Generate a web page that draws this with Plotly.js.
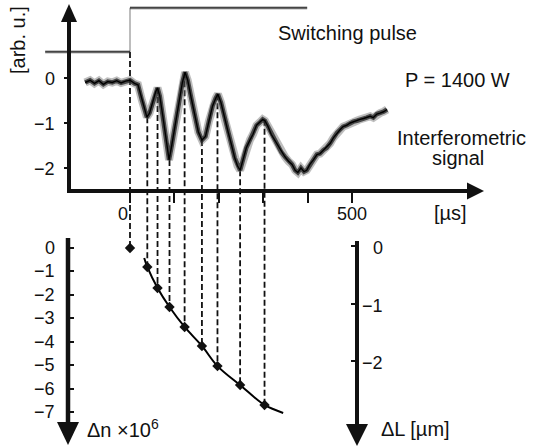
<!DOCTYPE html>
<html><head><meta charset="utf-8">
<script src="https://cdn.plot.ly/plotly-3.0.1.min.js"></script>
<style>html,body{margin:0;padding:0;background:#fff;} #chart{width:533px;height:447px;}</style>
</head><body><div id="chart"></div>
<script>
// ---------- data ----------
const pulseTime  = [-191, 0, 0, 399];
const pulseLevel = [0.58, 0.58, 1.56, 1.56];

const signalTime = [-101,-90,-80,-70,-60,-50,-40,-30,-20,-10,0,10,18,27,34,38,44,52,58,62,67,74,82,88,94,102,110,118,124,130,138,146,154,162,170,178,186,193,198,205,213,221,229,236,242,248,255,262,270,277,285,293,299,304,311,318,326,333,341,349,357,365,372,378,385,392,398,405,413,421,428,436,443,451,458,466,473,480,488,496,503,511,518,526,533,541,548,556,563,571,579];
const signalValue = [-0.10,-0.05,-0.12,-0.06,-0.14,-0.08,-0.10,-0.06,-0.11,-0.07,-0.05,-0.12,-0.15,-0.50,-0.75,-0.87,-0.78,-0.50,-0.30,-0.22,-0.40,-0.85,-1.45,-1.82,-1.50,-1.00,-0.55,-0.10,0.13,-0.05,-0.45,-0.80,-1.20,-1.38,-1.30,-0.95,-0.62,-0.45,-0.36,-0.55,-0.90,-1.20,-1.50,-1.78,-1.95,-2.05,-1.80,-1.55,-1.38,-1.25,-1.05,-0.98,-0.92,-0.95,-1.08,-1.25,-1.38,-1.50,-1.65,-1.75,-1.85,-1.92,-2.05,-2.10,-2.00,-2.08,-2.05,-1.92,-1.82,-1.70,-1.68,-1.60,-1.55,-1.45,-1.33,-1.22,-1.15,-1.08,-1.05,-1.00,-0.97,-0.95,-0.92,-0.90,-0.88,-0.85,-0.88,-0.80,-0.78,-0.75,-0.70];

const extremaTime   = [0, 39, 62, 89, 123, 162, 197, 248, 303];
const extremaSignal = [0.58, -0.87, -0.22, -1.82, 0.13, -1.38, -0.36, -2.05, -0.93];
const deltaN        = [0, -0.81, -1.71, -2.52, -3.37, -4.18, -5.04, -5.85, -6.70];

const fitTime   = [32, 39, 62, 89, 123, 162, 197, 248, 303, 345];
const fitDeltaN = [-0.43, -0.81, -1.71, -2.52, -3.37, -4.18, -5.04, -5.85, -6.70, -7.04];

const xTickVals   = [0, 100, 200, 300, 400, 500];
const xLabelVals  = [0, 500];
const xLabelText  = ['0', '500'];
const sigTickVals = [0, -1, -2];
const sigTickText = ['0', '\u22121', '\u22122'];
const dnTickVals  = [0, -1, -2, -3, -4, -5, -6, -7];
const dnTickText  = ['0', '\u22121', '\u22122', '\u22123', '\u22124', '\u22125', '\u22126', '\u22127'];
const dlTickVals  = [0, -1, -2];
const dlTickText  = ['0', '\u22121', '\u22122'];

// ---------- layout geometry ----------
const W = 533, H = 447;
const FONT = 'Liberation Sans, Arial, Helvetica, sans-serif';
const INK = '#111';
const xRange  = [-292.79, 907.66];
const y1Range = [-8.2, 1.7333];
const y2Range = [-8.4934, 10.5847];
const y3Range = [-3.4957, 4.2783];
const px = p => p / W;
const py = p => 1 - p / H;
// convert a value on the Δn axis to the signal axis (both span the full height)
const dnToSignal = v => y1Range[0] + (v - y2Range[0]) / (y2Range[1] - y2Range[0]) * (y1Range[1] - y1Range[0]);

const traces = [];
// dashed connectors
extremaTime.forEach((t, i) => {
  traces.push({x: [t, t], y: [extremaSignal[i], dnToSignal(deltaN[i])], xaxis: 'x', yaxis: 'y',
    mode: 'lines', line: {color: INK, width: 1.8, dash: '6px,3px'}, hoverinfo: 'skip'});
});
// switching pulse: light grey step, dark noisy levels
traces.push({x: pulseTime.slice(1, 3), y: pulseLevel.slice(1, 3), xaxis: 'x', yaxis: 'y', mode: 'lines',
  line: {color: '#999', width: 1.3}, hoverinfo: 'skip'});
[[0, 2], [2, 4]].forEach(([a, b]) => {
  traces.push({x: pulseTime.slice(a, b), y: pulseLevel.slice(a, b), xaxis: 'x', yaxis: 'y', mode: 'lines',
    line: {color: 'rgba(60,60,60,0.4)', width: 3.2}, hoverinfo: 'skip'});
  traces.push({x: pulseTime.slice(a, b), y: pulseLevel.slice(a, b), xaxis: 'x', yaxis: 'y', mode: 'lines',
    line: {color: '#222', width: 1.2}, hoverinfo: 'skip'});
});
// interferometric signal (noise band + core)
traces.push({x: signalTime, y: signalValue, xaxis: 'x', yaxis: 'y', mode: 'lines',
  line: {color: 'rgba(110,110,110,0.45)', width: 8}, hoverinfo: 'skip'});
traces.push({x: signalTime, y: signalValue, xaxis: 'x', yaxis: 'y', mode: 'lines',
  line: {color: 'rgba(30,30,30,0.75)', width: 4.5}, hoverinfo: 'skip'});
traces.push({x: signalTime, y: signalValue, xaxis: 'x', yaxis: 'y', mode: 'lines',
  line: {color: '#000', width: 1.4}});
// fit curve and Δn points
traces.push({x: fitTime, y: fitDeltaN, xaxis: 'x', yaxis: 'y2', mode: 'lines',
  line: {color: '#000', width: 2, shape: 'spline'}});
traces.push({x: extremaTime, y: deltaN, xaxis: 'x', yaxis: 'y2', mode: 'markers',
  marker: {symbol: 'diamond', size: 8, color: '#111'}});
// invisible trace so that the ΔL axis gets a subplot and its ticks are drawn
traces.push({x: [extremaTime[0]], y: [dlTickVals[0]], xaxis: 'x', yaxis: 'y3', mode: 'markers',
  marker: {size: 1, opacity: 0}, hoverinfo: 'skip'});

const baseAxis = {type: 'linear', showgrid: false, zeroline: false, showline: false, tickmode: 'array',
  showticklabels: false, tickwidth: 2, tickcolor: INK, fixedrange: true};

const L = (x0, y0, x1, y1, w) => ({type: 'line', xref: 'paper', yref: 'paper',
  x0: px(x0), y0: py(y0), x1: px(x1), y1: py(y1), line: {color: INK, width: w}});
const T = (pts) => ({type: 'path', xref: 'paper', yref: 'paper',
  path: 'M' + pts.map(p => px(p[0]) + ',' + py(p[1])).join('L') + 'Z',
  fillcolor: INK, line: {color: INK, width: 0}});

const shapes = [
  L(69, 20, 69, 193, 4),
  T([[69, 4], [61, 22], [77, 22]]),
  L(67, 191, 470, 191, 4),
  T([[484, 191], [467, 182.5], [467, 199.5]]),
  L(68, 238, 68, 424, 4.5),
  T([[68, 445], [57, 422], [79, 422]]),
  L(357, 241, 357, 426, 4),
  T([[357, 446], [346, 424], [368, 424]])
];

const A = (text, x, y, opts) => Object.assign({text, xref: 'paper', yref: 'paper',
  x: px(x), y: py(y), xanchor: 'center', yanchor: 'middle', showarrow: false,
  font: {family: FONT, size: 20, color: INK}}, opts || {});
const tickFont = {family: FONT, size: 18, color: INK};

const annotations = [
  A('[arb. u.]', 18, 40, {textangle: -90}),
  A('Switching pulse', 347, 33),
  A('P = 1400 W', 457, 80),
  A('Interferometric', 461, 138),
  A('signal', 458, 158),
  A('[\u00b5s]', 450, 213),
  A('\u0394n \u00d710<sup>6</sup>', 123, 428),
  A('\u0394L [\u00b5m]', 415, 429)
];
// tick labels
xLabelVals.forEach((v, i) => annotations.push({text: xLabelText[i], xref: 'x', yref: 'paper', x: v, y: py(214),
  xanchor: 'center', yanchor: 'middle', xshift: v === 0 ? -7 : 0, showarrow: false, font: tickFont}));
sigTickVals.forEach((v, i) => annotations.push({text: sigTickText[i], xref: 'paper', yref: 'y', x: px(57), y: v,
  xanchor: 'right', yanchor: 'middle', yshift: -1, showarrow: false, font: tickFont}));
dnTickVals.forEach((v, i) => annotations.push({text: dnTickText[i], xref: 'paper', yref: 'y2', x: px(57), y: v,
  xanchor: 'right', yanchor: 'middle', showarrow: false, font: tickFont}));
dlTickVals.forEach((v, i) => annotations.push({text: dlTickText[i], xref: 'paper', yref: 'y3', x: px(385), y: v,
  xanchor: 'right', yanchor: 'middle', yshift: -2, showarrow: false, font: tickFont}));

const layout = {
  width: W, height: H, margin: {l: 0, r: 0, t: 0, b: 0, pad: 0},
  paper_bgcolor: '#fff', plot_bgcolor: 'rgba(0,0,0,0)', showlegend: false,
  font: {family: FONT, color: INK},
  xaxis: Object.assign({}, baseAxis, {range: xRange, domain: [0, 1], anchor: 'free', position: py(191),
    tickvals: xTickVals, ticks: 'outside', ticklen: 11}),
  yaxis: Object.assign({}, baseAxis, {range: y1Range, domain: [0, 1], anchor: 'free', position: px(69),
    side: 'left', tickvals: sigTickVals, ticks: 'outside', ticklen: 5}),
  yaxis2: Object.assign({}, baseAxis, {range: y2Range, overlaying: 'y', anchor: 'free', position: px(68),
    side: 'left', tickvals: dnTickVals, ticks: 'inside', ticklen: 5}),
  yaxis3: Object.assign({}, baseAxis, {range: y3Range, overlaying: 'y', anchor: 'free', position: px(357),
    side: 'left', tickvals: dlTickVals, ticks: 'outside', ticklen: 6}),
  shapes, annotations
};

Plotly.newPlot('chart', traces, layout, {staticPlot: true, displayModeBar: false});
</script></body></html>
